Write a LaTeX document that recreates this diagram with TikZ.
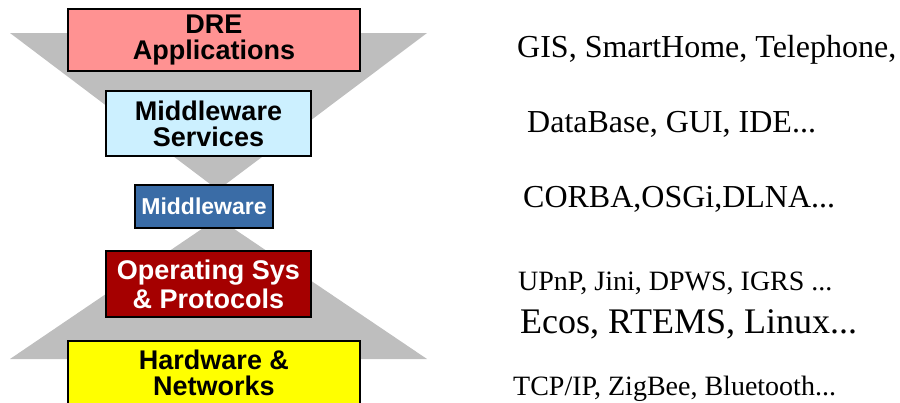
\documentclass[tikz,border=0pt]{standalone}
\usepackage{fontspec}
\setmainfont{Liberation Serif}
\newfontfamily\boxfont{Liberation Sans}
\definecolor{tri}{RGB}{190,190,190}
\definecolor{drepink}{RGB}{255,146,146}
\definecolor{mwslight}{RGB}{204,240,255}
\definecolor{mwblue}{RGB}{58,108,166}
\definecolor{osred}{RGB}{165,0,0}
\definecolor{hwyellow}{RGB}{255,255,0}
\begin{document}
\begin{tikzpicture}[x=1pt,y=-1pt,
  layer/.style={draw=black,line width=1.3pt,inner sep=0pt,align=center,
    font=\boxfont\bfseries\fontsize{27}{26}\selectfont},
  side/.style={anchor=base west,inner sep=0pt,text=black}]
\useasboundingbox (0,0) rectangle (900,402);
\begin{scope}
\clip (0,0) rectangle (900,402);
% gray funnels
\fill[tri] (10,33) -- (427,33) -- (218,190) -- cycle;
\fill[tri] (10,359) -- (427,359) -- (218,218) -- cycle;
% layers
\node[layer,fill=drepink,minimum width=292pt,minimum height=62pt] (dre) at (214,40) {DRE\\Applications};
\node[layer,fill=mwslight,minimum width=205pt,minimum height=65pt] (mws) at (208.5,123.5) {Middleware\\Services};
\node[layer,fill=mwblue,text=white,minimum width=138pt,minimum height=43pt,
  font=\boxfont\bfseries\fontsize{23}{24}\selectfont] (mw) at (204,206.5) {Middleware};
\node[layer,fill=osred,text=white,minimum width=205pt,minimum height=66pt,
  font=\boxfont\bfseries\fontsize{27}{29}\selectfont] (os) at (208.5,284) {Operating Sys\\\& Protocols};
\node[layer,fill=hwyellow,minimum width=292pt,minimum height=64pt] (hw) at (214,373) {Hardware \&\\Networks};
\end{scope}
% right-hand texts
\node[side,font=\fontsize{32}{36}\selectfont] (t1) at (517,57) {GIS, SmartHome, Telephone,};
\node[side,font=\fontsize{32}{36}\selectfont] (t2) at (527,132) {DataBase, GUI, IDE...};
\node[side,font=\fontsize{32}{36}\selectfont] (t3) at (523,207) {CORBA,OSGi,DLNA...};
\node[side,font=\fontsize{28}{32}\selectfont] (t4) at (518,290) {UPnP, Jini, DPWS, IGRS ...};
\node[side,font=\fontsize{36}{40}\selectfont] (t5) at (520,333) {Ecos, RTEMS, Linux...};
\node[side,font=\fontsize{28}{32}\selectfont] (t6) at (513,395) {TCP/IP, ZigBee, Bluetooth...};
\end{tikzpicture}
\end{document}
